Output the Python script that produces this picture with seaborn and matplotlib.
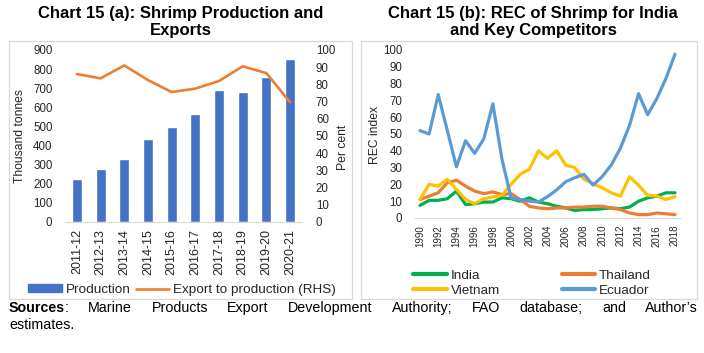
import numpy as np
import pandas as pd
import matplotlib
matplotlib.use('Agg')
import matplotlib.pyplot as plt
import seaborn as sns
from matplotlib.patches import Rectangle, Patch
from matplotlib.lines import Line2D

# Chart 15 (a) data
fy_labels = ['2011-12', '2012-13', '2013-14', '2014-15', '2015-16',
             '2016-17', '2017-18', '2018-19', '2019-20', '2020-21']
production = [222, 275, 330, 435, 498, 563, 689, 680, 757, 851]
export_share = [86, 83.5, 91, 82.5, 75.5, 77.5, 82, 90.5, 86.5, 69.5]

# Chart 15 (b) data
years = list(range(1990, 2019))
india = [7.5, 10.5, 10.5, 11.5, 16, 8, 8.5, 9.5, 9.5, 12, 11.5, 10, 12, 9.5, 8.5,
         7, 6, 4.5, 5, 5, 5.5, 6, 5.5, 6.5, 10, 12, 13, 15, 15]
thailand = [11, 13, 15, 21, 22.5, 19, 16, 14.5, 15.5, 14, 14.5, 11, 7, 6, 5.5,
            6, 6, 6.5, 6.5, 7, 7, 6, 5, 3, 2, 2, 3, 2.5, 2]
vietnam = [11, 20, 19, 23, 17, 11, 8.5, 11.5, 12.5, 13.5, 20, 26, 29, 40, 35.5,
           40, 31.5, 30, 23, 20.5, 18, 15, 13, 24.5, 19.5, 13.5, 13, 11, 12.7]
ecuador = [52, 50, 73.5, 52, 30.5, 46, 38.5, 47, 68, 35, 12, 11, 10, 9.5, 12.7,
           16.7, 21.6, 24, 26, 19.6, 24.6, 31.5, 41.5, 55, 74, 61.5, 71, 83, 97.5]

countries = ['India', 'Thailand', 'Vietnam', 'Ecuador']
colors_b = {'India': '#00B050', 'Thailand': '#ED7D31',
            'Vietnam': '#FFC000', 'Ecuador': '#5B9BD5'}

sns.set_style('white')
plt.rcParams['font.family'] = ['Liberation Sans', 'DejaVu Sans']

W, H = 704, 353
fig = plt.figure(figsize=(W / 100, H / 100), dpi=100)

def fx(px):
    return px / W

def fy(py):
    return 1 - py / H

grey = '#D9D9D9'
txt = '#262626'

# panel frames
fig.add_artist(Rectangle((fx(9), fy(299)), fx(352 - 9), (299 - 41) / H,
                         transform=fig.transFigure, fill=False, ec=grey, lw=0.9))
fig.add_artist(Rectangle((fx(361), fy(299)), fx(697 - 361), (299 - 41) / H,
                         transform=fig.transFigure, fill=False, ec=grey, lw=0.9))

# ---------- left chart ----------
ax = fig.add_axes([fx(65), fy(221.7), fx(302 - 65), (221.7 - 50) / H])
sns.barplot(x=fy_labels, y=production, color='#4472C4', saturation=1,
            width=0.42, ax=ax)
ax.set_xlim(-0.5, len(fy_labels) - 0.5)
ax.set_ylim(0, 900)
ax.set_yticks(range(0, 901, 100))
ax.tick_params(axis='y', length=0, pad=9, labelsize=8.3, labelcolor=txt)
ax.tick_params(axis='x', length=0, pad=5, labelsize=9, labelcolor=txt,
               rotation=90)
for s in ['top', 'right', 'left']:
    ax.spines[s].set_visible(False)
ax.spines['bottom'].set_color(grey)
ax.set_ylabel('Thousand tonnes', fontsize=8.7, color=txt)
ax.yaxis.set_label_coords(-0.163, 0.5)

ax2 = ax.twinx()
sns.lineplot(x=np.arange(len(fy_labels)), y=export_share, color='#ED7D31',
             lw=1.9, ax=ax2)
ax2.set_ylim(0, 100)
ax2.set_yticks(range(0, 101, 10))
ax2.tick_params(axis='y', length=0, pad=10, labelsize=8.3, labelcolor=txt)
for s in ['top', 'right', 'left', 'bottom']:
    ax2.spines[s].set_visible(False)
ax2.set_ylabel('Per cent', fontsize=8.7, color=txt)
ax2.yaxis.set_label_coords(1.148, 0.43)

fig.legend(handles=[Patch(color='#4472C4', label='Production'),
                    Line2D([], [], color='#ED7D31', lw=1.9,
                           label='Export to production (RHS)')],
           loc='center', bbox_to_anchor=(fx(182), fy(290)), ncol=2,
           frameon=False, fontsize=9.7, handlelength=2.5, handleheight=0.55,
           handletextpad=0.25, columnspacing=0.4, labelcolor=txt)

fig.text(fx(181), fy(22), 'Chart 15 (a): Shrimp Production and\nExports',
         ha='center', va='center', fontsize=12, fontweight='bold',
         linespacing=1.12, color='black')

# ---------- right chart ----------
df_b = pd.DataFrame({'year': years, 'India': india, 'Thailand': thailand,
                     'Vietnam': vietnam, 'Ecuador': ecuador})
long_b = df_b.melt(id_vars='year', var_name='country', value_name='rec')

bx = fig.add_axes([fx(415), fy(218), fx(680 - 415), (218 - 50) / H])
sns.lineplot(data=long_b, x='year', y='rec', hue='country',
             hue_order=countries, palette=colors_b, lw=2.3, ax=bx)
bx.set_xlim(1989.45, 2018.55)
bx.set_xticks(range(1990, 2019, 2))
bx.set_ylim(0, 100)
bx.set_yticks(range(0, 101, 10))
bx.tick_params(axis='y', length=0, pad=9, labelsize=8.3, labelcolor=txt)
bx.tick_params(axis='x', length=0, pad=5, labelsize=7, labelcolor=txt,
               rotation=90)
for s in ['top', 'right', 'left']:
    bx.spines[s].set_visible(False)
bx.spines['bottom'].set_color(grey)
bx.set_xlabel('')
bx.set_ylabel('REC index', fontsize=8.7, color=txt)
bx.yaxis.set_label_coords(-0.13, 0.494)
bx.get_legend().remove()

order = ['India', 'Vietnam', 'Thailand', 'Ecuador']
fig.legend(handles=[Line2D([], [], color=colors_b[c], lw=3, label=c) for c in order],
           loc='center', bbox_to_anchor=(fx(532), fy(283)), ncol=2,
           frameon=False, fontsize=9.7, handlelength=2.5, handletextpad=0.25,
           columnspacing=4.6, labelspacing=0.2, labelcolor=txt)

fig.text(fx(533), fy(22), 'Chart 15 (b): REC of Shrimp for India\nand Key Competitors',
         ha='center', va='center', fontsize=12, fontweight='bold',
         linespacing=1.12, color='black')

# ---------- footnote (justified first line) ----------
note_size = 10.3
words = 'Marine Products Export Development Authority; FAO database; and Author\u2019s'.split()
fig.canvas.draw()
r = fig.canvas.get_renderer()

def width_of(t):
    bb = t.get_window_extent(renderer=r)
    return bb.width / W

y1 = fy(308)
t0 = fig.text(fx(9), y1, 'Sources', fontweight='bold', fontsize=note_size,
              va='center', color='black')
x = fx(9) + width_of(t0)
tc = fig.text(x, y1, ':', fontsize=note_size, va='center', color='black')
x += width_of(tc)
wts = [fig.text(0, y1, w, fontsize=note_size, va='center', color='black')
       for w in words]
widths = [width_of(t) for t in wts]
gap = (fx(698) - x - sum(widths)) / len(words)
for t, w in zip(wts, widths):
    x += gap
    t.set_x(x)
    x += w

fig.text(fx(9), fy(325), 'estimates.', fontsize=note_size, va='center',
         color='black')

fig.savefig('out.png', dpi=100)
